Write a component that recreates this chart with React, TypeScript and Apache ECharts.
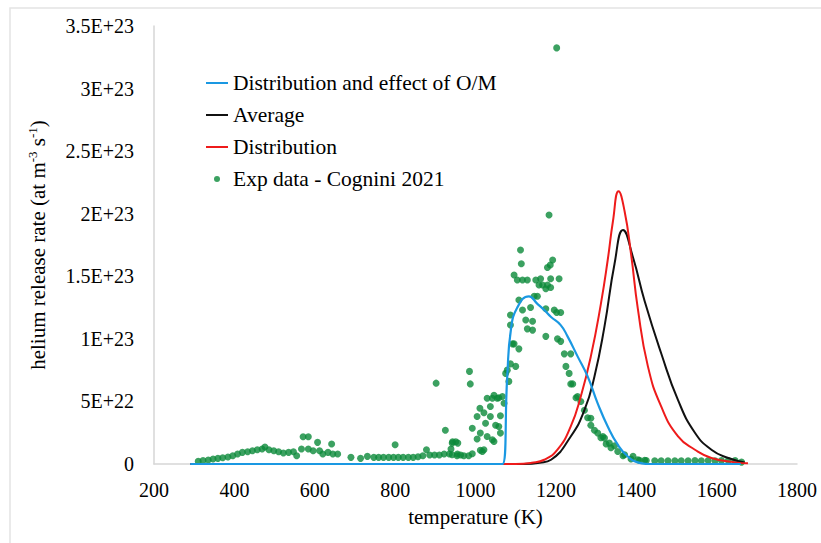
import React, { useEffect, useRef } from "react";
import * as echarts from "echarts";

// Tick labels
const xTickLabels = ["200", "400", "600", "800", "1000", "1200", "1400", "1600", "1800"];
const yTickLabels = ["0", "5E+22", "1E+23", "1.5E+23", "2E+23", "2.5E+23", "3E+23", "3.5E+23"];

// Series names
const seriesNames = [
  "Distribution and effect of O/M",
  "Average",
  "Distribution",
  "Exp data - Cognini 2021",
];

// Values: [temperature (K), helium release rate in units of 1E+22 at m^-3 s^-1]
const distributionOMCurve: [number, number][] = [
  [290, 0], [1067, 0], [1079, 7.0], [1088, 10.7], [1104, 12.5], [1133, 13.4],
  [1154, 12.8], [1171, 12.3], [1188, 11.75], [1212, 11.1], [1229, 10.2],
  [1254, 8.6], [1279, 7.0], [1304, 4.85], [1329, 3.0], [1354, 1.54],
  [1379, 0.6], [1404, 0.13], [1430, 0], [1660, 0],
];

const averageCurve: [number, number][] = [
  [290, 0], [1120, 0], [1160, 0.1], [1188, 0.34], [1237, 2.2], [1271, 4.3],
  [1296, 7.0], [1321, 11.0], [1346, 16.0], [1367, 18.7], [1392, 16.5],
  [1421, 13.0], [1462, 8.85], [1504, 5.1], [1546, 2.5], [1587, 1.14],
  [1629, 0.48], [1670, 0.13],
];

const distributionCurve: [number, number][] = [
  [290, 0], [1100, 0], [1140, 0.1], [1171, 0.34], [1204, 1.14], [1237, 3.0],
  [1262, 5.4], [1287, 8.6], [1312, 12.8], [1329, 16.3], [1342, 19.4],
  [1356, 21.8], [1371, 20.2], [1387, 16.8], [1404, 12.4], [1429, 7.8],
  [1462, 4.6], [1504, 2.2], [1546, 1.14], [1587, 0.48], [1646, 0.13], [1678, 0.05],
];

const expData: [number, number][] = [
  [310, 0.21], [322, 0.27], [335, 0.32], [347, 0.4], [359, 0.45], [371, 0.5],
  [384, 0.56], [396, 0.66], [408, 0.8], [420, 0.93], [433, 0.98], [445, 1.06],
  [457, 1.14], [469, 1.2], [476, 1.36], [486, 1.14], [498, 1.06], [510, 0.98],
  [522, 0.88], [535, 0.93], [547, 0.98], [555, 0.66], [567, 1.2], [571, 2.18],
  [584, 2.18], [584, 1.2], [596, 1.06], [607, 1.73], [612, 1.06], [620, 0.8],
  [633, 0.93], [642, 1.6], [645, 0.8], [657, 0.8], [690, 0.53], [714, 0.45],
  [731, 0.61], [747, 0.53], [759, 0.53], [771, 0.53], [784, 0.53], [796, 0.53],
  [800, 1.54], [808, 0.53], [820, 0.53], [833, 0.53], [845, 0.53], [857, 0.58],
  [869, 0.66], [878, 1.14], [886, 0.72], [898, 0.72], [902, 6.46], [910, 0.72],
  [922, 0.8], [925, 2.7], [935, 0.8], [939, 1.2], [943, 1.78], [951, 1.78],
  [955, 0.8], [963, 0.72], [942, 1.67], [956, 1.67], [942, 0.74], [954, 0.66],
  [971, 0.66], [983, 0.66], [992, 0.82], [985, 7.4], [987, 6.4], [992, 2.86],
  [1004, 3.8], [1004, 2.0], [1011, 4.46], [1012, 2.47], [1012, 1.1], [1017, 1.0],
  [1021, 1.14], [1021, 4.1], [1025, 3.26], [1029, 2.2], [1029, 5.26], [1037, 4.6],
  [1037, 3.8], [1042, 5.25], [1042, 1.94], [1046, 1.8], [1046, 5.5], [1050, 3.1],
  [1054, 5.25], [1058, 3.0], [1058, 5.3], [1062, 3.85], [1062, 2.47], [1067, 5.4],
  [1071, 4.85], [1075, 7.24], [1079, 7.5], [1083, 6.6], [1087, 8.0], [1092, 9.6],
  [1087, 11.1], [1087, 11.9], [1096, 9.6], [1100, 7.8], [1108, 9.2], [1108, 13.1],
  [1096, 15.1], [1112, 17.1], [1114, 16.0], [1104, 14.7], [1117, 14.7], [1129, 14.7],
  [1117, 12.3], [1125, 11.5], [1129, 10.8], [1137, 12.5], [1142, 11.4], [1142, 10.7],
  [1146, 13.4], [1154, 13.4], [1150, 14.7], [1158, 14.3], [1167, 14.3], [1162, 14.8],
  [1175, 14.0], [1179, 14.3], [1175, 12.4], [1175, 10.2], [1179, 15.7], [1183, 19.9],
  [1187, 14.8], [1192, 16.3], [1186, 15.9], [1187, 14.1], [1196, 12.3], [1202, 33.25],
  [1208, 14.8], [1202, 12.1], [1212, 12.1], [1204, 10.0], [1212, 9.8], [1221, 8.8],
  [1225, 7.8], [1233, 7.24], [1237, 8.8], [1237, 6.4], [1242, 6.4], [1250, 5.3],
  [1254, 5.4], [1262, 5.0], [1271, 4.3], [1279, 3.7], [1287, 3.66], [1287, 3.1],
  [1296, 2.7], [1304, 2.47], [1312, 2.1], [1317, 2.2], [1321, 2.07], [1325, 1.6],
  [1333, 1.67], [1337, 1.3], [1346, 1.46], [1354, 1.0], [1367, 0.66], [1371, 0.74],
  [1387, 0.4], [1392, 0.61], [1404, 0.34], [1408, 0.3], [1421, 0.29], [1425, 0.27],
  [1446, 0.25], [1462, 0.25], [1479, 0.25], [1496, 0.25], [1512, 0.25], [1529, 0.25],
  [1546, 0.27], [1562, 0.25], [1579, 0.27], [1596, 0.25], [1612, 0.27], [1629, 0.27],
  [1646, 0.27], [1662, 0.15],
];

const FONT = "Liberation Serif";
const BLUE = "#1a98e2";
const BLACK = "#111111";
const RED = "#ee1b1b";
const GREEN = "#0b8a3a";
const LINE_ICON = "path://M0,0M22,14M0,6H22V8H0Z";
const DOT_ICON = "path://M0,0M22,14M14,7A3,3,0,1,1,8,7A3,3,0,1,1,14,7Z";

export default function App() {
  const ref = useRef<HTMLDivElement>(null);

  useEffect(() => {
    if (!ref.current) return;
    const chart = echarts.init(ref.current, undefined, { renderer: "svg" });
    const lineCommon = {
      type: "line",
      showSymbol: false,
      symbol: "none",
      smooth: 0.5,
      emphasis: { disabled: true },
    };
    chart.setOption({
      animation: false,
      backgroundColor: "#ffffff",
      textStyle: { fontFamily: FONT },
      graphic: [
        {
          type: "rect",
          shape: { x: 10, y: 8, width: 900, height: 700 },
          style: { fill: "none", stroke: "#e4e4e4", lineWidth: 1.5 },
          silent: true,
        },
      ],
      grid: { left: 154, right: 24, top: 26, bottom: 79, outerBoundsMode: "none" },
      legend: {
        orient: "vertical",
        left: 201,
        top: 67,
        itemWidth: 22,
        itemHeight: 14,
        itemGap: 10,
        selectedMode: false,
        textStyle: { fontFamily: FONT, fontSize: 21.5, color: "#000" },
        data: [
          { name: seriesNames[0], icon: LINE_ICON },
          { name: seriesNames[1], icon: LINE_ICON },
          { name: seriesNames[2], icon: LINE_ICON },
          { name: seriesNames[3], icon: DOT_ICON },
        ],
      },
      xAxis: {
        type: "value",
        min: 200,
        max: 1800,
        interval: 200,
        name: "temperature (K)",
        nameLocation: "middle",
        nameGap: 42,
        nameTextStyle: { fontFamily: FONT, fontSize: 21, color: "#000" },
        axisLine: { show: true, onZero: false, lineStyle: { color: "#d6d6d6", width: 1.5 } },
        axisTick: { show: false },
        splitLine: { show: false },
        axisLabel: {
          fontFamily: FONT,
          fontSize: 20,
          color: "#000",
          margin: 16,
          formatter: (v: number) => xTickLabels[Math.round((v - 200) / 200)] ?? "",
        },
      },
      yAxis: {
        type: "value",
        min: 0,
        max: 35,
        interval: 5,
        name: "{a|helium release rate (at m}{s|-3}{a| s}{s|-1}{a|)}",
        nameLocation: "middle",
        nameRotate: 90,
        nameGap: 104,
        nameTextStyle: {
          fontFamily: FONT,
          fontSize: 21,
          color: "#000",
          rich: {
            a: { fontFamily: FONT, fontSize: 21, color: "#000", lineHeight: 24 },
            s: { fontFamily: FONT, fontSize: 13, color: "#000", verticalAlign: "top", lineHeight: 14 },
          },
        },
        axisLine: { show: true, lineStyle: { color: "#d6d6d6", width: 1.5 } },
        axisTick: { show: false },
        splitLine: { show: false },
        axisLabel: {
          fontFamily: FONT,
          fontSize: 20,
          color: "#000",
          margin: 20,
          formatter: (v: number) => yTickLabels[Math.round(v / 5)] ?? "",
        },
      },
      series: [
        {
          name: seriesNames[3],
          type: "scatter",
          data: expData,
          symbol: "circle",
          symbolSize: 7,
          itemStyle: { color: GREEN },
          emphasis: { disabled: true },
          z: 2,
        },
        {
          ...lineCommon,
          name: seriesNames[1],
          data: averageCurve,
          lineStyle: { color: BLACK, width: 2 },
          itemStyle: { color: BLACK },
          z: 3,
        },
        {
          ...lineCommon,
          name: seriesNames[2],
          data: distributionCurve,
          lineStyle: { color: RED, width: 2 },
          itemStyle: { color: RED },
          z: 4,
        },
        {
          ...lineCommon,
          name: seriesNames[0],
          data: distributionOMCurve,
          lineStyle: { color: BLUE, width: 2.2 },
          itemStyle: { color: BLUE },
          z: 5,
        },
      ],
    });
    return () => chart.dispose();
  }, []);

  return (
    <div
      ref={ref}
      style={{ position: "fixed", left: 0, top: 0, width: 821, height: 543, background: "#fff" }}
    />
  );
}
